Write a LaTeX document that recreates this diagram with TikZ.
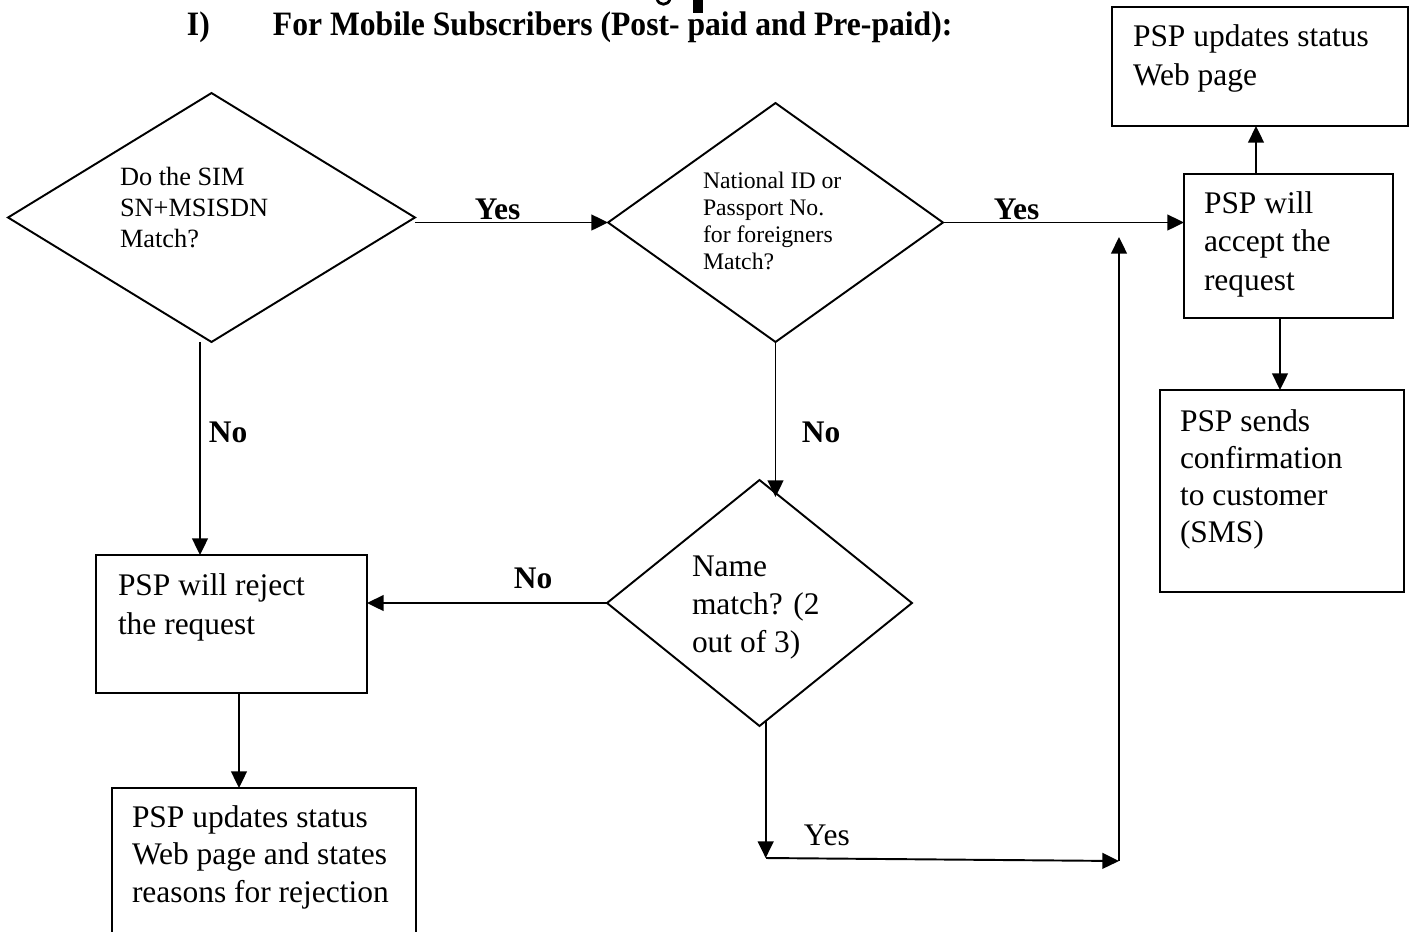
\documentclass[tikz,border=0pt]{standalone}
\usepackage{fontspec}
\setmainfont{Liberation Serif}
\usetikzlibrary{arrows.meta,shapes.geometric,fit,calc}
\newcommand\ptext[3]{\parbox[t]{9cm}{\fontsize{#1}{#2}\selectfont\raggedright #3}}
\begin{document}
\begin{tikzpicture}[x=0.02cm,y=-0.02cm,
  line width=1.1pt,
  arr/.style={-{Triangle[length=9.5pt,width=9pt]}},
  box/.style={draw,rectangle,inner sep=0pt,outer sep=0pt},
  dia/.style={draw,diamond,inner sep=0pt,outer sep=0pt},
  txt/.style={anchor=base west,inner sep=0pt,outer sep=0pt},
  lab/.style={anchor=base west,inner sep=0pt,font=\fontsize{17.9}{21.8}\selectfont\bfseries},
  ttl/.style={anchor=base west,inner sep=0pt,font=\fontsize{18}{22}\selectfont\bfseries,yscale=1.08}]
\useasboundingbox (0,0) rectangle (1416,931);
\clip (0,0) rectangle (1416,931);
\fill[white] (0,0) rectangle (1416,931);

% title and cut-off fragment at the top edge
\node[ttl] (tI) at (186,35) {I)};
\node[ttl] (tT) at (272,35) {For Mobile Subscribers (Post- paid and Pre-paid):};
\draw[line width=1.6pt] (657,-1) .. controls (659,6) and (668,6) .. (670,-1);
\fill (693,0) rectangle (703,13);

% decisions
\node[dia,minimum width=8.14cm,minimum height=4.98cm] (d1) at (211.5,217.5) {};
\node[dia,minimum width=6.70cm,minimum height=4.78cm] (d2) at (775.5,222.5) {};
\node[dia,minimum width=6.10cm,minimum height=4.92cm] (d3) at (759.5,603) {};

% boxes
\node[box,fit={(1112,7) (1408,126)}] (top) {};
\node[box,fit={(1184,174) (1393,318)}] (acc) {};
\node[box,fit={(1160,390) (1404,592)}] (sms) {};
\node[box,fit={(96,555) (367,693)}] (rej) {};
\node[box,fit={(112,788) (416,980)}] (bot) {};

% texts
\node[txt] (d1t) at (120,185) {\ptext{15}{17.9}{Do the SIM\\SN+MSISDN\\Match?}};
\node[txt] (d2t) at (703,188) {\ptext{13.5}{15.5}{National ID or\\Passport No.\\for foreigners\\Match?}};
\node[txt] (d3t) at (692,576) {\ptext{17.9}{21.8}{Name\\match? (2\\out of 3)}};
\node[txt] (topt) at (1133,46.7) {\ptext{17.9}{21.8}{PSP updates status\\Web page}};
\node[txt] (acct) at (1204,213) {\ptext{17.9}{22}{PSP will\\accept the\\request}};
\node[txt] (smst) at (1180,431) {\ptext{17.9}{21.1}{PSP sends\\confirmation\\to customer\\(SMS)}};
\node[txt] (rejt) at (118,595) {\ptext{17.9}{22.7}{PSP will reject\\the request}};
\node[txt] (bott) at (132,827) {\ptext{17.9}{21.5}{PSP updates status\\Web page and states\\reasons for rejection}};

% helper coordinates
\coordinate (xa) at (1256,0);
\coordinate (xb) at (1280,0);
\coordinate (xc) at (200,0);
\coordinate (xd) at (239,0);
\coordinate (n3) at (775.5,497);
\coordinate (c1) at (766,858);
\coordinate (c2) at (1119,861);
\coordinate (c3) at (1119,237);

% connectors
\draw[arr] (d1.east |- d2.west) -- (d2.west);
\draw[arr] (d2.east) -- (d2.east -| acc.west);
\draw[arr] (acc.north -| xa) -- (top.south -| xa);
\draw[arr] (acc.south -| xb) -- (sms.north -| xb);
\draw[arr] (xc |- d1.south) -- (xc |- rej.north);
\draw[arr] (d2.south) -- (n3);
\draw[arr] (d3.west) -- (d3.west -| rej.east);
\draw[arr] (xd |- rej.south) -- (xd |- bot.north);
\draw[arr] (d3.-87) -- (d3.-87 |- c1);
\draw[arr] (c1) -- (c2);
\draw[arr] (c2) -- (c3);

% labels
\node[lab] (y1) at (474,219) {Yes};
\node[lab] (y2) at (993,219) {Yes};
\node[lab] (n1) at (208,442) {No};
\node[lab] (n2) at (801,442) {No};
\node[lab] (n4) at (513,588) {No};
\node[anchor=base west,inner sep=0pt,font=\fontsize{17.9}{21.8}\selectfont] (y3) at (803,845) {Yes};
\end{tikzpicture}
\end{document}
